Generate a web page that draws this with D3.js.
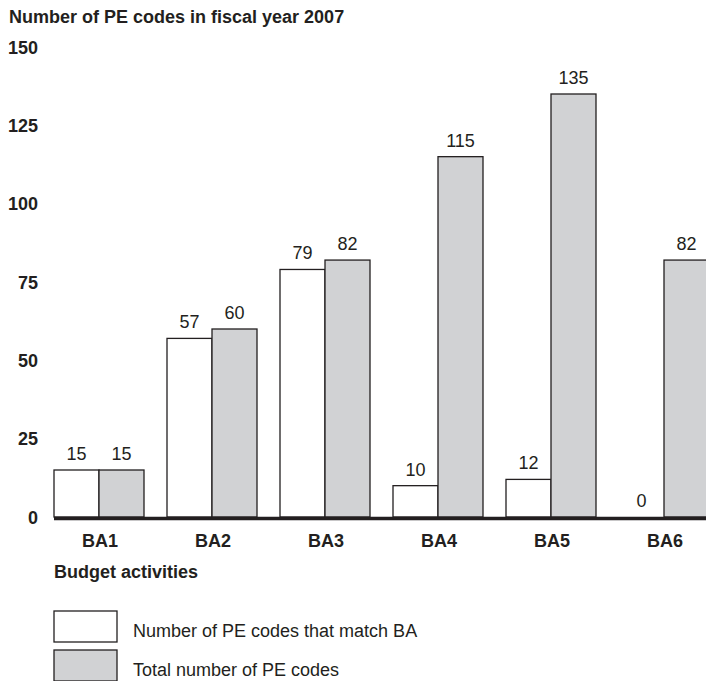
<!DOCTYPE html>
<html><head><meta charset="utf-8">
<script src="https://cdn.jsdelivr.net/npm/d3@7"></script>
<style>
body{margin:0;background:#fff;}
text{font-family:"Liberation Sans",Arial,sans-serif;fill:#231f20;}
</style></head>
<body>
<script>
const categories = ["BA1","BA2","BA3","BA4","BA5","BA6"];
const matchValues = [15,57,79,10,12,0];
const totalValues = [15,60,82,115,135,82];
const seriesNames = ["Number of PE codes that match BA","Total number of PE codes"];
const yTicks = [0,25,50,75,100,125,150];

const W=706,H=681,FS=18;
const svg=d3.select("body").append("svg").attr("width",W).attr("height",H);
const y=d3.scaleLinear().domain([0,150]).range([517,47]);
const x=d3.scaleBand().domain(categories).range([54,709]).paddingInner(23/113).paddingOuter(0);
const xs=d3.scaleBand().domain([0,1]).range([0,x.bandwidth()]);
const fills=["#ffffff","#d1d2d4"];
const ink="#231f20";

svg.append("text").attr("x",9).attr("y",23).attr("font-size",FS).attr("font-weight","bold")
  .text("Number of PE codes in fiscal year 2007");

const yAxis=d3.axisLeft(y).tickValues(yTicks).tickSize(0).tickPadding(0);
const ga=svg.append("g").attr("transform","translate(38,0)").call(yAxis);
ga.select(".domain").remove();
ga.selectAll("text").attr("font-size",FS).attr("font-weight","bold").attr("fill",ink)
  .attr("font-family","Liberation Sans, Arial, sans-serif").attr("dy","0.35em");

const data=categories.map((c,i)=>({c,vals:[matchValues[i],totalValues[i]]}));
const g=svg.append("g");
data.forEach(d=>{
  d.vals.forEach((v,k)=>{
    const bx=x(d.c)+xs(k);
    g.append("rect").attr("x",bx).attr("y",y(v)).attr("width",xs.bandwidth()).attr("height",y(0)-y(v))
      .attr("fill",fills[k]).attr("stroke",ink).attr("stroke-width",1.3);
    g.append("text").attr("x",bx+xs.bandwidth()/2).attr("y",y(v)-10).attr("text-anchor","middle")
      .attr("font-size",FS).text(v);
  });
});

const xAxis=d3.axisBottom(x).tickSize(0).tickPadding(0);
const gx=svg.append("g").attr("transform","translate(1,0)").call(xAxis);
gx.select(".domain").remove();
gx.selectAll("text").attr("font-size",FS).attr("font-weight","bold").attr("fill",ink)
  .attr("font-family","Liberation Sans, Arial, sans-serif").attr("y",547).attr("dy",null);

svg.append("line").attr("x1",54).attr("x2",W).attr("y1",y(0)+1.5).attr("y2",y(0)+1.5)
  .attr("stroke",ink).attr("stroke-width",3.5);

svg.append("text").attr("x",54).attr("y",578).attr("font-size",FS).attr("font-weight","bold")
  .text("Budget activities");

seriesNames.forEach((n,k)=>{
  const ly=611+k*39;
  svg.append("rect").attr("x",54).attr("y",ly).attr("width",63).attr("height",31)
    .attr("fill",fills[k]).attr("stroke",ink).attr("stroke-width",1.3);
  svg.append("text").attr("x",133).attr("y",ly+26).attr("font-size",FS).text(n);
});
</script>
</body></html>
